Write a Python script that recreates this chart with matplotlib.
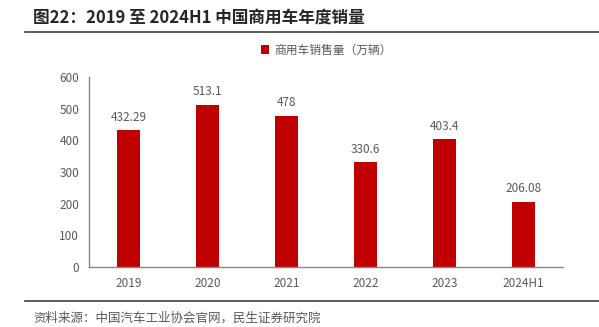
import matplotlib

matplotlib.use("Agg")
import matplotlib.pyplot as plt

plt.rcParams["font.family"] = ["Noto Sans CJK SC", "DejaVu Sans"]

categories = ["2019", "2020", "2021", "2022", "2023", "2024H1"]
sales = [432.29, 513.1, 478, 330.6, 403.4, 206.08]
value_labels = ["432.29", "513.1", "478", "330.6", "403.4", "206.08"]
yticks = [0, 100, 200, 300, 400, 500, 600]

BAR = "#C00000"
GRAY = "#595959"
AXIS = "#868686"

fig = plt.figure(figsize=(5.99, 3.27), dpi=100)
ax = fig.add_axes([0.1486, 0.1835, 0.7914, 0.581])

x = range(len(categories))
ax.bar(x, sales, width=0.3, color=BAR, label="商用车销售量（万辆）", zorder=2)
for xi, v, lab in zip(x, sales, value_labels):
    ax.text(xi, v + 20, lab, ha="center", va="bottom", fontsize=8.5, color=GRAY)

ax.set_xlim(-0.5, len(categories) - 0.5)
ax.set_ylim(0, 600)
ax.set_yticks(yticks)
ax.set_xticks(list(x))
ax.set_xticklabels(categories)
ax.tick_params(axis="both", length=0, labelsize=8.5, colors=GRAY, pad=7)
for side in ("top", "right"):
    ax.spines[side].set_visible(False)
for side in ("left", "bottom"):
    ax.spines[side].set_color(AXIS)
    ax.spines[side].set_linewidth(1.0)

ax.legend(loc="center", bbox_to_anchor=(0.5, 1.142), frameon=False,
          fontsize=8.5, labelcolor=GRAY, handlelength=0.7, handleheight=0.7,
          handletextpad=0.4)

fig.text(0.055, 0.945, "图22：2019 至 2024H1 中国商用车年度销量", fontsize=12,
         fontweight="bold", color="#262626", va="center")
fig.add_artist(plt.Line2D([0.042, 1.0], [0.902, 0.902], color="#404040",
                          linewidth=1.2, transform=fig.transFigure))
fig.add_artist(plt.Line2D([0.042, 1.0], [0.08, 0.08], color="#404040",
                          linewidth=1.2, transform=fig.transFigure))
fig.text(0.055, 0.028, "资料来源：中国汽车工业协会官网，民生证券研究院", fontsize=9,
         color=GRAY, va="center")

fig.savefig("out.png", dpi=100)
